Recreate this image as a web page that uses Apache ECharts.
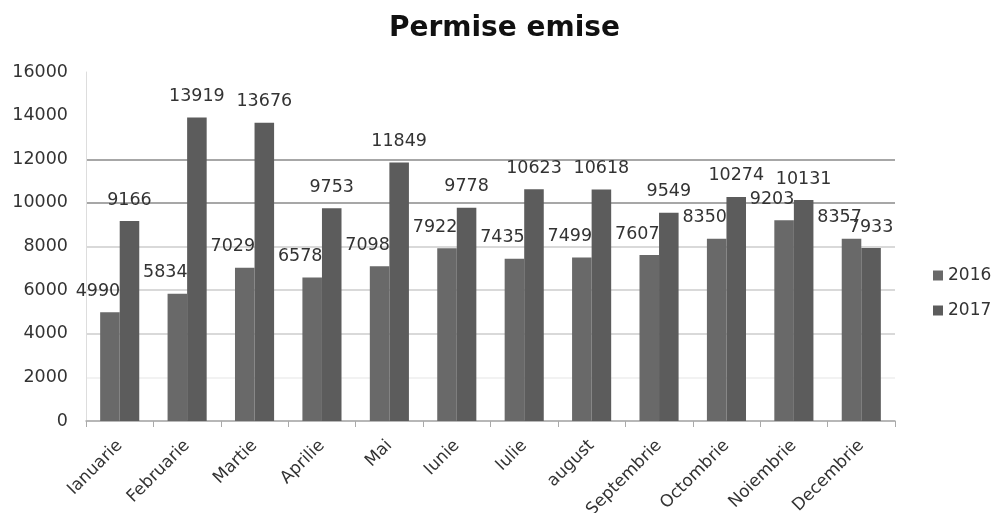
<!DOCTYPE html>
<html>
<head>
<meta charset="utf-8">
<script src="https://cdn.jsdelivr.net/npm/echarts@6/dist/echarts.min.js"></script>
<style>
  html, body { margin: 0; padding: 0; background: #fff; }
  #chart { width: 992px; height: 513px; }
</style>
</head>
<body>
<div id="chart"></div>
<script>
// months, as written on the axis
const months = ['Ianuarie', 'Februarie', 'Martie', 'Aprilie', 'Mai', 'Iunie',
  'Iulie', 'august', 'Septembrie', 'Octombrie', 'Noiembrie', 'Decembrie'];
const values2016 = [4990, 5834, 7029, 6578, 7098, 7922, 7435, 7499, 7607, 8350, 9203, 8357];
const values2017 = [9166, 13919, 13676, 9753, 11849, 9778, 10623, 10618, 9549, 10274, 10131, 7933];
const seriesNames = ['2016', '2017'];

const chart = echarts.init(document.getElementById('chart'));

// grid lines: 10000 and 12000 look darker in the source picture
const gridColors = ['#d0d0d0', '#eeeeee', '#cccccc', '#cccccc', '#cccccc',
  '#8a8a8a', '#8a8a8a', '#ffffff', '#ffffff'];

const labelFont = {
  fontFamily: 'DejaVu Sans',
  fontSize: 17.5,
  color: '#333'
};

const option = {
  animation: false,
  color: ['#696969', '#5c5c5c'],
  title: {
    text: 'Permise emise',
    left: 384,
    top: 10,
    textStyle: {
      fontFamily: 'DejaVu Sans',
      fontWeight: 'bold',
      fontSize: 28,
      color: '#111'
    }
  },
  legend: {
    orient: 'vertical',
    left: 928,
    top: 262,
    itemWidth: 10,
    itemHeight: 10,
    itemGap: 18,
    icon: 'rect',
    data: seriesNames,
    textStyle: { fontFamily: 'DejaVu Sans', fontSize: 17, color: '#333' }
  },
  grid: {
    left: 86,
    right: 97,
    top: 72,
    bottom: 92,
    containLabel: false,
    outerBoundsMode: 'none'
  },
  xAxis: {
    type: 'category',
    data: months,
    axisLine: { lineStyle: { color: '#aaa', width: 1.5 } },
    axisTick: { show: true, length: 6, lineStyle: { color: '#aaa' } },
    axisLabel: {
      rotate: 45,
      margin: 22,
      interval: 0,
      fontFamily: 'DejaVu Sans',
      fontSize: 17,
      color: '#333'
    }
  },
  yAxis: {
    type: 'value',
    min: 0,
    max: 16000,
    interval: 2000,
    axisLine: { show: true, lineStyle: { color: '#ddd' } },
    axisTick: { show: false },
    axisLabel: Object.assign({ margin: 18, formatter: v => String(v) }, labelFont),
    splitLine: { lineStyle: { color: gridColors, width: 1.5 } }
  },
  series: [
    {
      name: seriesNames[0],
      type: 'bar',
      data: values2016,
      barGap: '0%',
      barCategoryGap: '42%',
      label: {
        show: true,
        position: 'top',
        offset: [-12, -7],
        ...labelFont
      }
    },
    {
      name: seriesNames[1],
      type: 'bar',
      data: values2017,
      label: {
        show: true,
        position: 'top',
        offset: [0, -7],
        ...labelFont
      }
    }
  ]
};

chart.setOption(option);
window.addEventListener('resize', () => chart.resize());
</script>
</body>
</html>
